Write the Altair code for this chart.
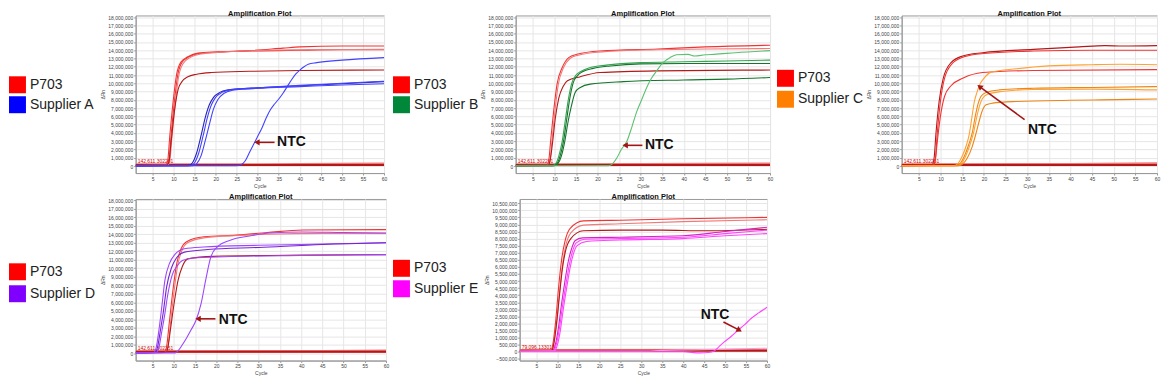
import math
import altair as alt
import pandas as pd

FONT = "Liberation Sans"

# ---------------- axes / labels ----------------
X_DOMAIN = [1, 60]
X_TICKS = [5, 10, 15, 20, 25, 30, 35, 40, 45, 50, 55, 60]
Y_TICKS_BIG = [i * 1_000_000 for i in range(0, 19)]
Y_TICKS_E = [i * 500_000 for i in range(-1, 22)]
Y_DOMAIN_TOP = [-850_000, 18_200_000]
Y_DOMAIN_D = [-860_000, 18_150_000]
Y_DOMAIN_E = [-620_000, 10_800_000]
THRESH_AD = 142611.302251
THRESH_E = 79096.133017
THRESH_LABEL_AD = "142,611.302251"
THRESH_LABEL_E = "79,096.133017"
TITLE = "Amplification Plot"
X_TITLE = "Cycle"
Y_TITLE = "ΔRn"

LEGEND_A = ["P703", "Supplier A"]
LEGEND_B = ["P703", "Supplier B"]
LEGEND_C = ["P703", "Supplier C"]
LEGEND_D = ["P703", "Supplier D"]
LEGEND_E = ["P703", "Supplier E"]

# ---------------- colours ----------------
RED = "#f03434"
RED_DK = "#b41818"
RED_LT = "#f07a7a"
BLUE = "#4242ff"
BLUE_DK = "#2424b8"
GREEN = "#35a552"
GREEN_DK = "#14752c"
GREEN_LT = "#5cc070"
ORANGE = "#ffa234"
ORANGE_DK = "#ec8614"
PURPLE = "#9c46ff"
PURPLE_DK = "#7424cc"
MAGENTA = "#ff44ff"
MAGENTA_DK = "#d424c4"
PINK_LT = "#f4a0d8"
KEY_RED = "#ff0000"
KEY_BLUE = "#0000ff"
KEY_GREEN = "#00873a"
KEY_ORANGE = "#ff8000"
KEY_PURPLE = "#8000ff"
KEY_MAGENTA = "#ff00ff"
ARROW = "#a31515"

# ---------------- panel 1: P703 vs Supplier A (values in millions) ----------------
P1_RED_1 = [(1, 0.05), (8, 0.08), (8.6, 0.6), (9.1, 3.6), (9.9, 7.8), (10.7, 11.0), (11.8, 12.6), (13.4, 13.2),
            (15.8, 13.65), (20.5, 13.8), (28, 13.95), (36, 14.25), (40, 14.4), (50, 14.5), (60, 14.5)]
P1_RED_2 = [(1, 0.05), (8.3, 0.08), (8.9, 0.6), (9.4, 3.6), (10.2, 7.8), (11.0, 11.0), (12.1, 12.6), (13.7, 13.2),
            (16, 13.6), (20.5, 13.75), (28, 13.9), (40, 14.0), (50, 14.05), (60, 14.05)]
P1_RED_3 = [(1, 0.05), (8.5, 0.08), (9.1, 0.6), (9.6, 3.4), (10.4, 7.5), (11.2, 10.8), (12.3, 12.4), (13.9, 13.1),
            (16.5, 13.55), (21, 13.75), (30, 13.95), (40, 14.05), (60, 14.1)]
P1_RED_4 = [(1, 0.05), (8.3, 0.08), (8.9, 0.5), (9.4, 2.8), (10.2, 6.6), (11.1, 9.3), (12, 10.2), (13.4, 10.8),
            (15.5, 11.1), (19, 11.3), (28, 11.45), (40, 11.55), (60, 11.6)]
P1_BLUE_1 = [(1, 0.02), (13.5, 0.05), (14.5, 0.4), (15.5, 1.6), (16.5, 3.6), (17.5, 5.8), (18.5, 7.4), (19.5, 8.3),
             (21, 8.9), (23, 9.2), (26, 9.35), (30, 9.45), (40, 9.7), (50, 9.95), (60, 10.2)]
P1_BLUE_2 = [(1, 0.02), (14, 0.05), (15, 0.4), (16, 1.6), (17, 3.6), (18, 5.8), (19, 7.4), (20, 8.3), (21.5, 8.9),
             (23.5, 9.2), (26.5, 9.35), (30, 9.45), (40, 9.75), (50, 10.0), (60, 10.25)]
P1_BLUE_3 = [(1, 0.02), (14.5, 0.05), (15.5, 0.3), (16.5, 1.2), (17.5, 3.0), (18.5, 5.0), (19.5, 6.9), (20.5, 8.0),
             (22, 8.8), (24, 9.15), (27, 9.3), (30, 9.4), (40, 9.6), (50, 9.8), (60, 9.95)]
P1_NTC = [(1, 0.02), (25, 0.05), (26, 0.15), (27, 0.6), (28, 1.6), (29, 2.6), (30, 3.6), (31, 4.6), (32, 5.8),
          (33, 6.8), (34, 7.5), (35, 8.1), (36, 8.8), (37, 9.6), (38, 10.4), (39, 11.1), (40, 11.6), (41, 12.0),
          (42, 12.3), (44, 12.5), (50, 12.8), (60, 13.1)]
P1_FLAT_DARK = [(1, 0.13), (60, 0.13)]
P1_FLAT_LIGHT = [(1, 0.22), (30, 0.22), (60, 0.3)]
P1_NTC_TEXT = (34.6, 2.86)
P1_NTC_TAIL = (34.0, 2.86)
P1_NTC_TIP = (29.8, 2.86)

# ---------------- panel 2: P703 vs Supplier B ----------------
P2_RED_1 = [(1, 0.05), (8.2, 0.08), (8.7, 0.8), (9.1, 3.0), (9.8, 6.6), (10.6, 9.9), (11.8, 11.9), (13.3, 13.1),
            (15.2, 13.5), (20.6, 13.9), (34, 14.15), (45, 14.4), (60, 14.6)]
P2_RED_2 = [(1, 0.05), (8.5, 0.08), (9.0, 0.8), (9.4, 3.0), (10.1, 6.6), (10.9, 9.9), (12.1, 11.9), (13.6, 13.0),
            (15.5, 13.4), (21, 13.8), (34, 14.05), (45, 14.15), (60, 14.2)]
P2_RED_3 = [(1, 0.05), (8.5, 0.08), (9, 0.7), (9.5, 2.6), (10.2, 5.8), (11, 8.2), (12, 9.6), (13, 10.3),
            (16, 10.8), (20.6, 11.3), (34, 11.5), (60, 11.6)]
P2_GREEN_1 = [(1, 0.03), (9.5, 0.05), (10.3, 0.3), (11, 1.2), (11.8, 3.0), (12.5, 5.5), (13.2, 8.0), (14, 10.0),
              (15, 11.0), (16, 11.4), (18.3, 11.9), (22, 12.2), (30, 12.5), (40, 12.6), (50, 12.7), (60, 12.8)]
P2_GREEN_2 = [(1, 0.03), (9.8, 0.05), (10.6, 0.3), (11.3, 1.2), (12.1, 3.0), (12.8, 5.5), (13.5, 8.0), (14.3, 10.0),
              (15.3, 10.9), (16.5, 11.4), (19, 11.8), (23, 12.1), (30, 12.35), (40, 12.4), (60, 12.4)]
P2_GREEN_3 = [(1, 0.03), (10, 0.05), (10.8, 0.3), (11.6, 1.2), (12.4, 3.0), (13.1, 5.2), (13.9, 7.2), (14.8, 8.9),
              (16, 9.5), (18.3, 9.9), (26, 10.2), (40, 10.4), (50, 10.5), (60, 10.7)]
P2_NTC = [(1, 0.03), (22.5, 0.05), (23.5, 0.3), (24.5, 1.0), (25.5, 2.0), (26.8, 3.0), (28, 4.8), (29.1, 6.6),
          (30.3, 8.1), (31.4, 9.5), (32.5, 10.6), (33.7, 11.5), (35, 12.4), (36.8, 13.1), (38.3, 13.45), (41, 13.5),
          (42.5, 13.3), (45, 13.45), (47, 13.5), (52, 13.7), (60, 13.95)]
P2_FLAT_DARK = [(1, 0.13), (60, 0.13)]
P2_FLAT_LIGHT = [(1, 0.22), (30, 0.24), (60, 0.3)]
P2_NTC_TEXT = (31.0, 2.5)
P2_NTC_TAIL = (30.4, 2.5)
P2_NTC_TIP = (26.4, 2.5)

# ---------------- panel 3: P703 vs Supplier C ----------------
P3_RED_1 = [(1, 0.05), (8, 0.08), (8.5, 1.0), (8.9, 3.8), (9.65, 7.8), (10.6, 10.6), (12.4, 12.5), (15.1, 13.3),
            (19.7, 13.7), (31.4, 14.1), (42, 14.4), (48, 14.55), (52, 14.5), (60, 14.55)]
P3_RED_2 = [(1, 0.05), (8.3, 0.08), (8.8, 1.0), (9.2, 3.8), (9.95, 7.8), (10.9, 10.6), (12.7, 12.4), (15.4, 13.2),
            (20, 13.6), (31.4, 13.9), (45, 14.0), (60, 14.0)]
P3_RED_3 = [(1, 0.05), (8.3, 0.08), (8.8, 0.8), (9.2, 2.8), (9.95, 6.0), (10.9, 8.4), (12.4, 9.7), (15.1, 10.6),
            (19.7, 11.3), (31.4, 11.55), (60, 11.65)]
P3_ORANGE_1 = [(1, 0.03), (13.5, 0.05), (14.5, 0.3), (15.5, 1.2), (16.5, 2.6), (17.3, 4.0), (18, 6.0), (18.7, 7.6),
               (19.3, 8.4), (20.5, 8.9), (23.6, 9.2), (31.4, 9.4), (45, 9.5), (60, 9.6)]
P3_ORANGE_2 = [(1, 0.03), (13.8, 0.05), (14.8, 0.3), (15.8, 1.2), (16.8, 2.6), (17.6, 4.0), (18.3, 5.8), (19, 7.3),
               (19.7, 8.2), (21, 8.7), (24, 9.0), (31.4, 9.25), (45, 9.3), (60, 9.2)]
P3_ORANGE_3 = [(1, 0.03), (14.2, 0.05), (15.2, 0.3), (16.2, 1.0), (17.2, 2.2), (18, 3.6), (18.8, 5.2), (19.5, 6.5),
               (20.5, 7.4), (22, 7.6), (27.5, 7.8), (40, 7.95), (47, 8.0), (60, 8.1)]
P3_NTC = [(1, 0.03), (13, 0.05), (14, 0.3), (15, 1.2), (16, 2.6), (16.6, 3.8), (17.2, 5.8), (17.8, 7.8), (18.4, 8.9),
          (19, 9.8), (20, 10.6), (21.7, 11.35), (27.5, 11.75), (35, 12.1), (45, 12.25), (51.5, 12.3), (60, 12.25)]
P3_FLAT_DARK = [(1, 0.13), (60, 0.13)]
P3_FLAT_LIGHT = [(1, 0.22), (40, 0.24), (60, 0.35)]
P3_NTC_TEXT = (30.2, 4.4)
P3_NTC_TAIL = (29.4, 5.6)
P3_NTC_TIP = (19.0, 9.6)

# ---------------- panel 4: P703 vs Supplier D ----------------
P4_RED_1 = [(1, 0.05), (7.8, 0.08), (8.3, 0.8), (8.9, 3.5), (9.8, 7.5), (10.7, 10.6), (11.7, 12.3), (12.9, 13.1),
            (17.1, 13.7), (24.8, 13.9), (32, 14.2), (40.3, 14.5), (60, 14.55)]
P4_RED_2 = [(1, 0.05), (8.1, 0.08), (8.6, 0.8), (9.2, 3.5), (10.1, 7.5), (11, 10.6), (12, 12.2), (13.2, 13.0),
            (17.4, 13.6), (25, 13.85), (32, 14.0), (45, 14.1), (60, 14.1)]
P4_RED_3 = [(1, 0.05), (8.1, 0.08), (8.6, 0.7), (9.2, 2.8), (10.1, 6.0), (11, 8.6), (12, 10.2), (13.3, 11.1),
            (19.4, 11.4), (40, 11.55), (60, 11.6)]
P4_PURPLE_1 = [(1, 0.05), (5.3, 0.08), (5.9, 0.8), (6.5, 2.8), (7.1, 5.2), (7.9, 8.6), (9, 10.6), (10.2, 11.6),
               (12.5, 12.3), (17, 12.5), (30, 12.7), (45, 12.85), (60, 13.0)]
P4_PURPLE_2 = [(1, 0.05), (5.6, 0.08), (6.2, 0.8), (6.8, 2.6), (7.5, 4.8), (8.3, 7.8), (9.4, 10.0), (10.6, 11.2),
               (12.5, 11.9), (18, 12.2), (30, 12.45), (45, 12.8), (60, 13.0)]
P4_PURPLE_3 = [(1, 0.05), (5.9, 0.08), (6.5, 0.7), (7.1, 2.4), (7.8, 4.4), (8.6, 7.0), (9.6, 9.2), (10.8, 10.3),
               (12, 10.9), (14.5, 11.2), (22, 11.35), (40, 11.5), (60, 11.6)]
P4_NTC = [(1, 0.03), (10.3, 0.05), (11, 0.3), (12, 1.0), (13, 1.8), (14, 2.7), (15.2, 3.85), (16.4, 5.8),
          (17.5, 8.6), (18.7, 11.3), (20.2, 12.5), (23.3, 13.3), (27.9, 13.8), (32.6, 14.15), (40.3, 14.27),
          (50, 14.2), (60, 14.15)]
P4_FLAT_DARK = [(1, 0.18), (60, 0.18)]
P4_FLAT_LIGHT = [(1, 0.25), (45, 0.27), (60, 0.33)]
P4_NTC_TEXT = (20.6, 3.93)
P4_NTC_TAIL = (19.8, 4.05)
P4_NTC_TIP = (15.7, 4.05)

# ---------------- panel 5: P703 vs Supplier E ----------------
P5_RED_1 = [(1, 0.02), (8.4, 0.04), (8.9, 0.5), (9.6, 2.2), (10.3, 4.6), (11, 6.5), (11.8, 7.8), (13, 8.7),
            (16.2, 9.25), (25, 9.3), (40, 9.4), (60, 9.5)]
P5_RED_2 = [(1, 0.02), (8.6, 0.04), (9.1, 0.5), (9.8, 2.0), (10.5, 4.2), (11.2, 6.1), (12, 7.5), (13.2, 8.4),
            (16.2, 8.95), (25, 9.05), (40, 9.2), (60, 9.33)]
P5_RED_3 = [(1, 0.02), (8.6, 0.04), (9.1, 0.5), (9.8, 2.0), (10.5, 4.0), (11.2, 5.9), (12, 7.2), (13.2, 8.0),
            (16.2, 8.55), (25, 8.6), (35, 8.6), (45, 8.55), (60, 8.65)]
P5_MAGENTA_1 = [(1, 0.02), (8.9, 0.04), (9.5, 0.5), (10.3, 1.8), (11, 3.4), (11.8, 5.0), (12.6, 6.4), (13.4, 7.3),
                (14.2, 7.85), (16, 8.05), (25, 8.1), (40, 8.2), (50, 8.5), (60, 8.8)]
P5_MAGENTA_2 = [(1, 0.02), (9.1, 0.04), (9.7, 0.5), (10.5, 1.7), (11.2, 3.2), (12, 4.7), (12.8, 6.1), (13.6, 7.1),
                (14.5, 7.7), (16.5, 7.95), (25, 8.0), (40, 8.1), (50, 8.35), (60, 8.6)]
P5_MAGENTA_3 = [(1, 0.02), (9.3, 0.04), (9.9, 0.4), (10.7, 1.5), (11.4, 3.0), (12.2, 4.5), (13, 5.9), (13.8, 6.9),
                (14.7, 7.5), (17, 7.8), (25, 7.9), (40, 8.0), (50, 8.2), (60, 8.35)]
P5_NTC = [(1, 0.0), (40, 0.0), (44, -0.08), (46, -0.05), (47.4, 0.05), (48.5, 0.35), (49.8, 0.7), (51.5, 1.1),
          (53, 1.5), (54.6, 1.9), (56.2, 2.35), (58, 2.75), (60, 3.15)]
P5_PINK = [(1, 0.05), (30, 0.05), (35, 0.1), (45, 0.15), (60, 0.25)]
P5_FLAT_DARK = [(1, 0.08), (60, 0.08)]
P5_FLAT_LIGHT = [(1, 0.12), (60, 0.14)]
P5_NTC_TEXT = (47.6, 2.63)
P5_NTC_TAIL = (49.6, 2.11)
P5_NTC_TIP = (53.4, 1.53)


def to_df(pts):
    return pd.DataFrame({"cycle": [p[0] for p in pts], "value": [p[1] * 1e6 for p in pts]})


def panel(width, height, ydom, yticks, curves, flats, thresh, thresh_label,
          legend_labels, legend_colors, leg_x, leg_y, ntc_text, ntc_tail, ntc_tip, text_align="left"):
    xs = alt.Scale(domain=X_DOMAIN, nice=False, zero=False)
    ys = alt.Scale(domain=ydom, nice=False, zero=False)
    x = alt.X("cycle:Q", scale=xs, axis=alt.Axis(values=X_TICKS, tickCount=len(X_TICKS) + 5, title=X_TITLE,
                                                 labelOverlap=False, labelFlush=False))
    y = alt.Y("value:Q", scale=ys, axis=alt.Axis(values=yticks, tickCount=len(yticks) + 5, format=",d",
                                                 title=Y_TITLE, labelOverlap=False, labelFlush=False))

    layers = []
    tdf = pd.DataFrame({"value": [thresh], "t": [thresh_label]})
    layers.append(alt.Chart(tdf).mark_rule(color=KEY_RED, strokeWidth=0.8).encode(
        y=alt.Y("value:Q", scale=ys), x=alt.value(0), x2=alt.value(width)))
    for pts, col in flats:
        layers.append(alt.Chart(to_df(pts)).mark_line(strokeWidth=2, color=col, clip=True).encode(x=x, y=y))
    layers.append(alt.Chart(tdf).mark_text(
        font=FONT, fontSize=5, color="#d00000", align="left", baseline="bottom", dy=-1).encode(
        y=alt.Y("value:Q", scale=ys), x=alt.value(2), text="t:N"))

    for pts, col in curves:
        layers.append(alt.Chart(to_df(pts)).mark_line(strokeWidth=1.1, color=col, interpolate="monotone",
                                                      clip=True).encode(x=x, y=y))

    # NTC annotation
    adf = pd.DataFrame({"c1": [ntc_tail[0]], "v1": [ntc_tail[1] * 1e6],
                        "c2": [ntc_tip[0]], "v2": [ntc_tip[1] * 1e6]})
    layers.append(alt.Chart(adf).mark_rule(color=ARROW, strokeWidth=1.6).encode(
        x=alt.X("c1:Q", scale=xs), y=alt.Y("v1:Q", scale=ys), x2="c2:Q", y2="v2:Q"))
    sx = width / (X_DOMAIN[1] - X_DOMAIN[0])
    sy = height / (ydom[1] - ydom[0])
    dx = (ntc_tip[0] - ntc_tail[0]) * sx
    dy = -(ntc_tip[1] - ntc_tail[1]) * 1e6 * sy
    ang = math.degrees(math.atan2(dx, -dy)) % 360
    layers.append(alt.Chart(adf).mark_point(shape="triangle-up", filled=True, size=40, color=ARROW,
                                            opacity=1, angle=ang).encode(
        x=alt.X("c2:Q", scale=xs), y=alt.Y("v2:Q", scale=ys)))
    ndf = pd.DataFrame({"c": [ntc_text[0]], "v": [ntc_text[1] * 1e6], "t": ["NTC"]})
    layers.append(alt.Chart(ndf).mark_text(font=FONT, fontSize=14, fontWeight="bold", color="#111111",
                                           align=text_align, baseline="middle").encode(
        x=alt.X("c:Q", scale=xs), y=alt.Y("v:Q", scale=ys), text="t:N"))

    # key on the left
    for lab, col, yy in zip(legend_labels, legend_colors, leg_y):
        kd = pd.DataFrame({"t": [lab]})
        layers.append(alt.Chart(kd).mark_square(size=289, color=col, opacity=1, filled=True).encode(
            x=alt.value(leg_x), y=alt.value(yy)))
        layers.append(alt.Chart(kd).mark_text(font=FONT, fontSize=14, color="#222222", align="left",
                                              baseline="middle").encode(
            x=alt.value(leg_x + 12.5), y=alt.value(yy), text="t:N"))

    return alt.layer(*layers).properties(
        width=width, height=height,
        title=alt.TitleParams(TITLE, font=FONT, fontSize=7.5, fontWeight="bold", color="#111111", offset=-2))


TOP_H = 158
BOT_H = 162

p1 = panel(249, TOP_H, Y_DOMAIN_TOP, Y_TICKS_BIG,
           [(P1_RED_1, RED), (P1_RED_2, RED), (P1_RED_3, RED_LT), (P1_RED_4, RED_DK),
            (P1_BLUE_1, BLUE_DK), (P1_BLUE_2, BLUE), (P1_BLUE_3, BLUE), (P1_NTC, BLUE)],
           [(P1_FLAT_LIGHT, RED_LT), (P1_FLAT_DARK, RED_DK)],
           THRESH_AD, THRESH_LABEL_AD, LEGEND_A, [KEY_RED, KEY_BLUE], -118.5, [69.5, 89.5],
           P1_NTC_TEXT, P1_NTC_TAIL, P1_NTC_TIP)
p2 = panel(255, TOP_H, Y_DOMAIN_TOP, Y_TICKS_BIG,
           [(P2_RED_1, RED), (P2_RED_2, RED_LT), (P2_RED_3, RED_DK),
            (P2_GREEN_1, GREEN), (P2_GREEN_2, GREEN_DK), (P2_GREEN_3, GREEN_DK), (P2_NTC, GREEN_LT)],
           [(P2_FLAT_LIGHT, RED_LT), (P2_FLAT_DARK, RED_DK)],
           THRESH_AD, THRESH_LABEL_AD, LEGEND_B, [KEY_RED, KEY_GREEN], -114.5, [69.5, 89.5],
           P2_NTC_TEXT, P2_NTC_TAIL, P2_NTC_TIP)
p3 = panel(256, TOP_H, Y_DOMAIN_TOP, Y_TICKS_BIG,
           [(P3_RED_1, RED_DK), (P3_RED_2, RED), (P3_RED_3, RED),
            (P3_ORANGE_1, ORANGE_DK), (P3_ORANGE_2, ORANGE), (P3_ORANGE_3, ORANGE_DK), (P3_NTC, ORANGE)],
           [(P3_FLAT_LIGHT, RED_LT), (P3_FLAT_DARK, RED_DK)],
           THRESH_AD, THRESH_LABEL_AD, LEGEND_C, [KEY_RED, KEY_ORANGE], -116.5, [63, 84],
           P3_NTC_TEXT, P3_NTC_TAIL, P3_NTC_TIP)
p4 = panel(251, BOT_H, Y_DOMAIN_D, Y_TICKS_BIG,
           [(P4_RED_1, RED), (P4_RED_2, RED_LT), (P4_RED_3, RED_DK),
            (P4_PURPLE_1, PURPLE), (P4_PURPLE_2, PURPLE_DK), (P4_PURPLE_3, PURPLE), (P4_NTC, PURPLE)],
           [(P4_FLAT_LIGHT, RED_LT), (P4_FLAT_DARK, RED_DK)],
           THRESH_AD, THRESH_LABEL_AD, LEGEND_D, [KEY_RED, KEY_PURPLE], -118.5, [73, 95],
           P4_NTC_TEXT, P4_NTC_TAIL, P4_NTC_TIP)
p5 = panel(248, BOT_H, Y_DOMAIN_E, Y_TICKS_E,
           [(P5_RED_1, RED), (P5_RED_2, RED_LT), (P5_RED_3, RED_DK),
            (P5_MAGENTA_1, MAGENTA_DK), (P5_MAGENTA_2, MAGENTA), (P5_MAGENTA_3, MAGENTA),
            (P5_PINK, PINK_LT), (P5_NTC, MAGENTA)],
           [(P5_FLAT_LIGHT, RED_LT), (P5_FLAT_DARK, RED_DK)],
           THRESH_E, THRESH_LABEL_E, LEGEND_E, [KEY_RED, KEY_MAGENTA], -118.5, [69.5, 90],
           P5_NTC_TEXT, P5_NTC_TAIL, P5_NTC_TIP, text_align="center")

row1 = alt.hconcat(p1, p2, p3, spacing=132, bounds="flush")
row2 = alt.hconcat(p4, p5, spacing=134, bounds="flush")

chart = alt.vconcat(row1, row2, spacing=3).properties(
    padding=0, background="white"
).configure_view(
    stroke="#9a9a9a", strokeWidth=1
).configure_axis(
    labelFont=FONT, titleFont=FONT, labelFontSize=5, titleFontSize=5, labelColor="#444444",
    titleColor="#444444", titleFontWeight="normal", tickSize=2, tickColor="#999999",
    domainColor="#9a9a9a", gridColor="#e6e6e6", labelPadding=1, titlePadding=2
)

chart.save("out.html", embed_options={"renderer": "svg", "actions": False})
